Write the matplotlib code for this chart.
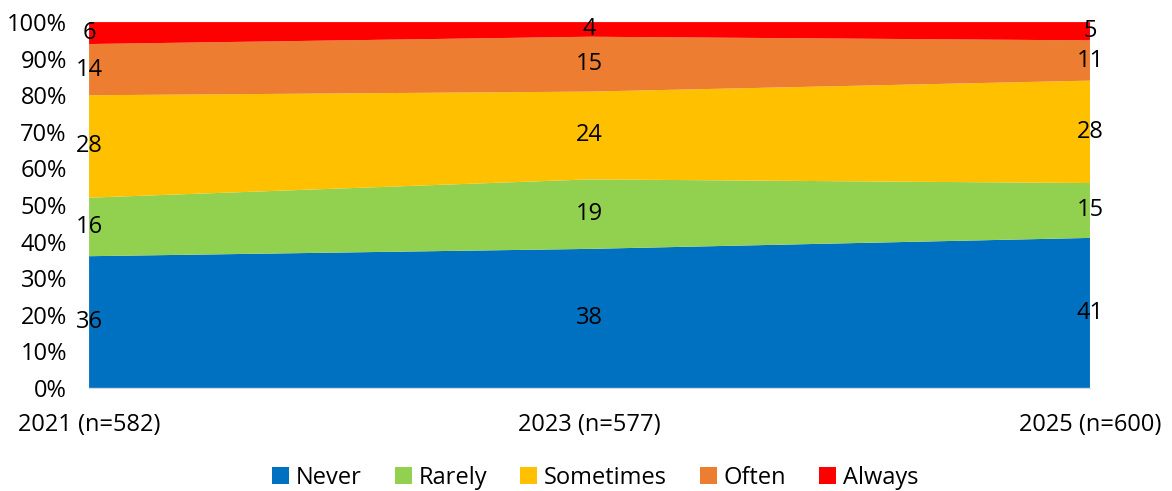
import matplotlib.pyplot as plt
import numpy as np

plt.rcParams['font.family'] = ['Open Sans', 'DejaVu Sans']

years = ['2021 (n=582)', '2023 (n=577)', '2025 (n=600)']
categories = ['Never', 'Rarely', 'Sometimes', 'Often', 'Always']
never = [36, 38, 41]
rarely = [16, 19, 15]
sometimes = [28, 24, 28]
often = [14, 15, 11]
always = [6, 4, 5]
colors = ['#0070C0', '#92D050', '#FFC000', '#ED7D31', '#FF0000']

series = [never, rarely, sometimes, often, always]
x = np.arange(len(years))
fs = 17

fig = plt.figure(figsize=(11.72, 4.91), dpi=100)
ax = fig.add_axes([0.076, 0.210, 0.854, 0.745])

ax.stackplot(x, *series, colors=colors, labels=categories)

# data labels at segment centres
bottom = np.zeros(len(years))
for vals in series:
    v = np.array(vals, dtype=float)
    for i in range(len(years)):
        ax.text(x[i], bottom[i] + v[i] / 2, str(vals[i]), ha='center', va='center',
                fontsize=fs, color='black', clip_on=False)
    bottom += v

ax.set_xlim(0, 2)
ax.set_ylim(0, 100)
ax.set_yticks(range(0, 101, 10))
ax.set_yticklabels([f'{t}%' for t in range(0, 101, 10)], fontsize=fs)
ax.set_xticks(x)
ax.set_xticklabels(years, fontsize=fs)
ax.tick_params(length=0)
ax.tick_params(axis='y', pad=16)
ax.tick_params(axis='x', pad=18)
for s in ['top', 'right', 'left']:
    ax.spines[s].set_visible(False)
ax.spines['bottom'].set_color('#D9D9D9')

fig.legend(*ax.get_legend_handles_labels(), loc='center', bbox_to_anchor=(0.508, 0.027),
           ncol=5, frameon=False, fontsize=fs, handlelength=0.7, handleheight=0.7,
           handletextpad=0.3, columnspacing=1.4)

fig.savefig('out.png', dpi=100)
